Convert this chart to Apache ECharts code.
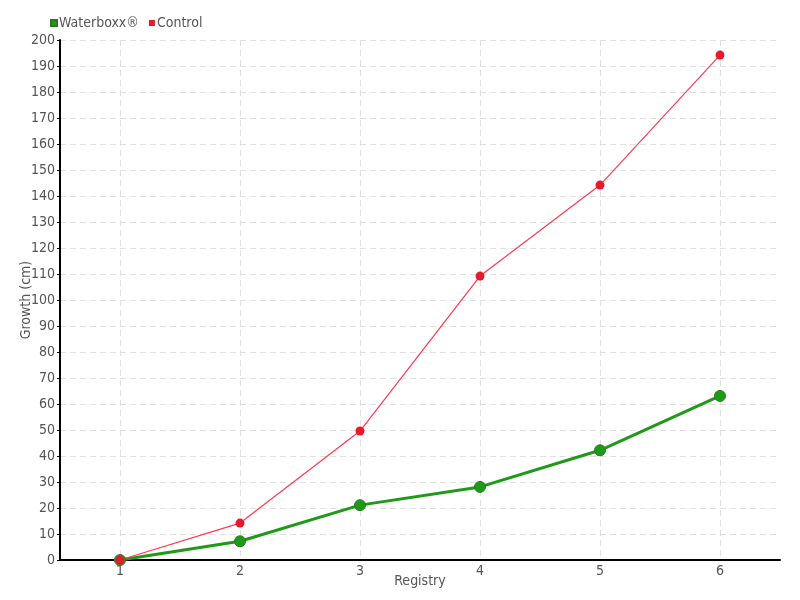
<!DOCTYPE html>
<html><head><meta charset="utf-8">
<script src="https://cdn.jsdelivr.net/npm/echarts@6/dist/echarts.min.js"></script>
<style>html,body{margin:0;padding:0;background:#fff}#c{width:800px;height:600px}</style>
</head><body><div id="c"></div>
<script>
const categories = ['1','2','3','4','5','6'];
const waterboxx = [0, 7.2, 21.1, 28.1, 42.2, 63.1];
const control = [0, 14.2, 49.6, 109.2, 144.2, 194.2];
const gridCats = ['','','','','','','','','','','','',''];
const FONT = '"DejaVu Sans Condensed", Roboto';
const txt = {fontFamily: FONT, fontSize: 14, color: '#555'};
const chart = echarts.init(document.getElementById('c'));
chart.setOption({
  animation: false,
  textStyle: {fontFamily: FONT},
  legend: {
    left: 45, top: 11, itemWidth: 6, itemHeight: 6, itemGap: 10,
    icon: 'rect',
    textStyle: Object.assign({}, txt, {padding: [0,0,0,-3]}),
    data: ['Waterboxx®', 'Control']
  },
  grid: {left: 60, right: 20, top: 40, bottom: 40, outerBoundsMode: 'none'},
  xAxis: [{
    type: 'category', data: categories, boundaryGap: true,
    name: 'Registry', nameLocation: 'middle', nameGap: 14, nameMoveOverlap: false,
    nameTextStyle: txt,
    axisLine: {lineStyle: {color: '#000', width: 2}},
    axisTick: {alignWithLabel: true, length: 4, lineStyle: {color: '#000'}},
    axisLabel: Object.assign({margin: 4}, txt),
    splitLine: {show: false}
  }, {
    type: 'category', data: gridCats, boundaryGap: false, position: 'bottom',
    axisLine: {show: false}, axisTick: {show: false}, axisLabel: {show: false},
    splitLine: {show: true, interval: function (i) { return i % 2 === 1; },
      lineStyle: {type: [6,4], color: '#e0e0e0'}}
  }],
  yAxis: {
    type: 'value', min: 0, max: 200, interval: 10,
    name: 'Growth (cm)', nameLocation: 'middle', nameGap: 27, nameMoveOverlap: false,
    nameTextStyle: txt,
    axisLine: {show: true, lineStyle: {color: '#000', width: 2}},
    axisTick: {show: true, length: 3, lineStyle: {color: '#000'}},
    axisLabel: Object.assign({margin: 5}, txt),
    splitLine: {show: true, lineStyle: {type: [6,4], color: '#e0e0e0'}}
  },
  series: [
    {
      name: 'Waterboxx®', type: 'line', data: waterboxx, xAxisIndex: 0,
      symbol: 'circle', symbolSize: 11,
      itemStyle: {color: '#1f9a18', borderColor: '#2a7a20', borderWidth: 1},
      lineStyle: {color: '#1f9a18', width: 3}
    },
    {
      name: 'Control', type: 'line', data: control, xAxisIndex: 0,
      symbol: 'circle', symbolSize: 9,
      itemStyle: {color: '#e8192c'},
      lineStyle: {color: '#ff3a50', width: 1.2}
    }
  ]
});
</script></body></html>
